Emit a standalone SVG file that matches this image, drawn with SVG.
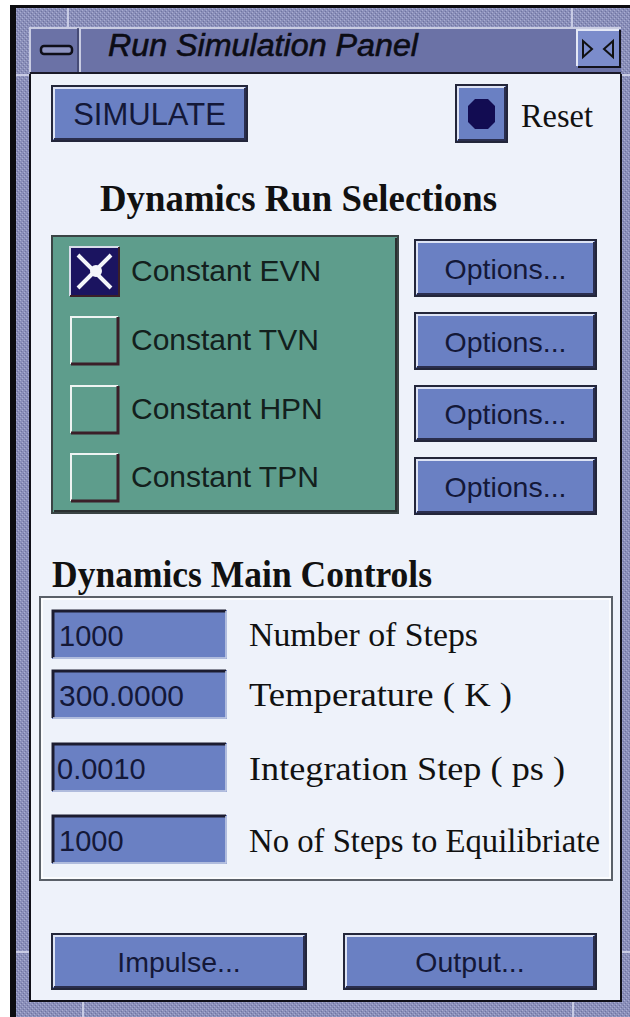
<svg xmlns="http://www.w3.org/2000/svg" width="630" height="1017" viewBox="0 0 630 1017">
<style>
  .btn{fill:#6a80c3;stroke:#23263a;stroke-width:2}
  .hl{fill:none;stroke:#dde3f4;stroke-width:2}
  .sh{fill:none;stroke:#2a2e4e;stroke-width:2}
  .btxt{font-family:"Liberation Sans",Arial,sans-serif;font-size:28.500px;fill:#141838;text-anchor:middle}
  .lbl{font-family:"Liberation Sans",Arial,sans-serif;font-size:30px;fill:#13201d}
  .ftxt{font-family:"Liberation Sans",Arial,sans-serif;font-size:29px;fill:#141838}
  .slbl{font-family:"Liberation Serif","Times New Roman",serif;font-size:34px;fill:#111}
  .hdr{font-family:"Liberation Serif","Times New Roman",serif;font-size:37px;font-weight:bold;fill:#111}
  .cb{fill:#5e9d8c}
  .cbhl{fill:none;stroke:#eef4f2;stroke-width:2}
  .cbsh{fill:none;stroke:#3a1f28;stroke-width:3}
  .notch{stroke:#c8cbe4;stroke-width:2}
</style>
<defs>
  <pattern id="tex" width="4" height="4" patternUnits="userSpaceOnUse">
    <rect width="4" height="4" fill="#8a8fba"/>
    <rect x="0" y="0" width="1" height="1" fill="#aaaed0"/>
    <rect x="2" y="2" width="1" height="1" fill="#aaaed0"/>
    <rect x="1" y="3" width="1" height="1" fill="#70749e"/>
    <rect x="3" y="1" width="1" height="1" fill="#70749e"/>
  </pattern>
</defs>

<!-- page -->
<rect width="630" height="1017" fill="#ffffff"/>

<!-- window frame -->
<g id="frame">
  <rect x="10" y="5" width="620" height="1012" fill="#0c0c10"/>
  <rect x="16" y="8" width="614" height="1009" fill="url(#tex)"/>
  <line class="notch" x1="68" y1="8" x2="68" y2="27"/>
  <line class="notch" x1="572" y1="8" x2="572" y2="27"/>
  <line class="notch" x1="83" y1="1002" x2="83" y2="1017"/>
  <line class="notch" x1="573" y1="1002" x2="573" y2="1017"/>
  <line class="notch" x1="16" y1="75" x2="30" y2="75"/>
  <line class="notch" x1="16" y1="952" x2="30" y2="952"/>
  <line class="notch" x1="621" y1="75" x2="630" y2="75"/>
  <line class="notch" x1="621" y1="952" x2="630" y2="952"/>
</g>

<!-- title bar -->
<g id="titlebar">
  <rect x="30" y="27" width="591" height="46" fill="#6b72a6"/>
  <path d="M30 72 V28 H621" fill="none" stroke="#c9cce2" stroke-width="2"/>
  <path d="M30 73 H621" stroke="#1a1a28" stroke-width="2"/>
  <line x1="80" y1="28" x2="80" y2="72" stroke="#c9cce2" stroke-width="2"/>
  <line x1="78" y1="28" x2="78" y2="72" stroke="#3a3f66" stroke-width="1.5"/>
  <rect x="41" y="46" width="31" height="8" rx="3" fill="#8d93c0" stroke="#0e0e18" stroke-width="2.5"/>
  <text x="108" y="56" font-family="'Liberation Sans',Arial,sans-serif" font-size="31" font-style="italic" fill="#0c0c14" stroke="#0c0c14" stroke-width="0.6" textLength="310" lengthAdjust="spacingAndGlyphs">Run Simulation Panel</text>
  <rect x="577" y="30" width="43" height="37" fill="#7b8ccb"/>
  <path d="M577 66 V30 H619" fill="none" stroke="#e4e8f6" stroke-width="2"/>
  <path d="M578 67 H620 V30" fill="none" stroke="#12121c" stroke-width="2"/>
  <path d="M583 41 L592 49 L583 57 Z" fill="none" stroke="#111" stroke-width="2"/>
  <path d="M613 41 L604 49 L613 57 Z" fill="none" stroke="#111" stroke-width="2"/>
</g>

<!-- client area -->
<rect x="30" y="74" width="591" height="927" fill="#eef2fa"/>
<path d="M30 74 V1001 H621 V74" fill="none" stroke="#101018" stroke-width="2"/>

<!-- simulate button -->
<g id="simulate">
  <rect class="btn" x="52" y="86" width="195" height="55"/>
  <path class="hl" d="M54 139 V88 H245"/>
  <path class="sh" d="M54 139 H245 V88"/>
  <text class="btxt" x="149.500" y="125" style="font-size:31px">SIMULATE</text>
</g>

<!-- reset toggle -->
<g id="reset">
  <rect class="btn" x="456" y="85" width="51" height="57"/>
  <path class="hl" d="M458 140 V87 H505"/>
  <path class="sh" d="M458 140 H505 V87"/>
  <path d="M475 99 H488 L495 106 V122 L488 129 H475 L468 122 V106 Z" fill="#120c52"/>
  <text x="521" y="127" font-family="'Liberation Serif','Times New Roman',serif" font-size="33" fill="#111" textLength="72" lengthAdjust="spacingAndGlyphs">Reset</text>
</g>

<text class="hdr" x="100" y="211" textLength="397" lengthAdjust="spacingAndGlyphs">Dynamics Run Selections</text>

<!-- run selection group -->
<g id="runselections">
  <rect x="52" y="236" width="346" height="277" fill="#5e9d8c" stroke="#3a4444" stroke-width="2"/>
  <path d="M54 511 H396 V238" fill="none" stroke="#2a3030" stroke-width="2"/>

  <g id="evn">
    <rect x="70" y="247" width="49" height="49" fill="#1b1460"/>
    <path d="M70 296 V247 H119" fill="none" stroke="#d8dcea" stroke-width="2"/>
    <path d="M70 296 H119 V247" fill="none" stroke="#3a1f28" stroke-width="2"/>
    <path d="M78 255 L111 288 M111 255 L78 288" stroke="#f4f6fa" stroke-width="4"/>
    <circle cx="96" cy="271" r="6" fill="#f4f6fa"/>
    <text class="lbl" x="131" y="281">Constant EVN</text>
  </g>
  <g id="tvn">
    <rect class="cb" x="70" y="316" width="49" height="49"/>
    <path class="cbhl" d="M71 364 V317 H118"/>
    <path class="cbsh" d="M71 364 H118 V317"/>
    <text class="lbl" x="131" y="350">Constant TVN</text>
  </g>
  <g id="hpn">
    <rect class="cb" x="70" y="385" width="49" height="49"/>
    <path class="cbhl" d="M71 433 V386 H118"/>
    <path class="cbsh" d="M71 433 H118 V386"/>
    <text class="lbl" x="131" y="419">Constant HPN</text>
  </g>
  <g id="tpn">
    <rect class="cb" x="70" y="453" width="49" height="49"/>
    <path class="cbhl" d="M71 501 V454 H118"/>
    <path class="cbsh" d="M71 501 H118 V454"/>
    <text class="lbl" x="131" y="487">Constant TPN</text>
  </g>
</g>

<!-- options buttons -->
<g id="options1">
  <rect class="btn" x="415" y="240" width="181" height="56"/>
  <path class="hl" d="M417 294 V242 H594"/>
  <path class="sh" d="M417 294 H594 V242"/>
  <text class="btxt" x="505.500" y="279">Options...</text>
</g>
<g id="options2">
  <rect class="btn" x="415" y="313" width="181" height="56"/>
  <path class="hl" d="M417 367 V315 H594"/>
  <path class="sh" d="M417 367 H594 V315"/>
  <text class="btxt" x="505.500" y="352">Options...</text>
</g>
<g id="options3">
  <rect class="btn" x="415" y="386" width="181" height="55"/>
  <path class="hl" d="M417 439 V388 H594"/>
  <path class="sh" d="M417 439 H594 V388"/>
  <text class="btxt" x="505.500" y="424">Options...</text>
</g>
<g id="options4">
  <rect class="btn" x="415" y="458" width="181" height="56"/>
  <path class="hl" d="M417 512 V460 H594"/>
  <path class="sh" d="M417 512 H594 V460"/>
  <text class="btxt" x="505.500" y="497">Options...</text>
</g>

<text class="hdr" x="52" y="587" textLength="380" lengthAdjust="spacingAndGlyphs">Dynamics Main Controls</text>

<!-- main controls group -->
<g id="maincontrols">
  <rect x="40" y="597" width="572" height="283" fill="none" stroke="#5a6068" stroke-width="2"/>
  <rect x="42" y="599" width="568" height="279" fill="none" stroke="#ffffff" stroke-width="1.5"/>

  <g id="steps">
    <rect x="52" y="610" width="175" height="49" fill="#6a80c3"/>
    <path d="M53 658 V611 H226" fill="none" stroke="#1c1c30" stroke-width="3"/>
    <path d="M53 658 H226 V611" fill="none" stroke="#c8cfe6" stroke-width="1.5"/>
    <text class="ftxt" x="59" y="646">1000</text>
    <text class="slbl" x="249" y="646" textLength="229" lengthAdjust="spacingAndGlyphs">Number of Steps</text>
  </g>
  <g id="temperature">
    <rect x="52" y="670" width="175" height="49" fill="#6a80c3"/>
    <path d="M53 718 V671 H226" fill="none" stroke="#1c1c30" stroke-width="3"/>
    <path d="M53 718 H226 V671" fill="none" stroke="#c8cfe6" stroke-width="1.5"/>
    <text class="ftxt" x="59" y="706" textLength="125" lengthAdjust="spacingAndGlyphs">300.0000</text>
    <text class="slbl" x="249" y="706" textLength="263" lengthAdjust="spacingAndGlyphs">Temperature ( K )</text>
  </g>
  <g id="integration">
    <rect x="52" y="743" width="175" height="49" fill="#6a80c3"/>
    <path d="M53 791 V744 H226" fill="none" stroke="#1c1c30" stroke-width="3"/>
    <path d="M53 791 H226 V744" fill="none" stroke="#c8cfe6" stroke-width="1.5"/>
    <text class="ftxt" x="57" y="779">0.0010</text>
    <text class="slbl" x="249" y="780" textLength="316" lengthAdjust="spacingAndGlyphs">Integration Step ( ps )</text>
  </g>
  <g id="equilibrate">
    <rect x="52" y="815" width="175" height="49" fill="#6a80c3"/>
    <path d="M53 863 V816 H226" fill="none" stroke="#1c1c30" stroke-width="3"/>
    <path d="M53 863 H226 V816" fill="none" stroke="#c8cfe6" stroke-width="1.5"/>
    <text class="ftxt" x="59" y="851">1000</text>
    <text class="slbl" x="249" y="852" textLength="351" lengthAdjust="spacingAndGlyphs">No of Steps to Equilibriate</text>
  </g>
</g>

<!-- bottom buttons -->
<g id="impulse">
  <rect class="btn" x="52" y="934" width="254" height="55"/>
  <path class="hl" d="M54 987 V936 H304"/>
  <path class="sh" d="M54 987 H304 V936"/>
  <text class="btxt" x="179" y="972">Impulse...</text>
</g>
<g id="output">
  <rect class="btn" x="344" y="934" width="252" height="55"/>
  <path class="hl" d="M346 987 V936 H594"/>
  <path class="sh" d="M346 987 H594 V936"/>
  <text class="btxt" x="470" y="972">Output...</text>
</g>
</svg>
